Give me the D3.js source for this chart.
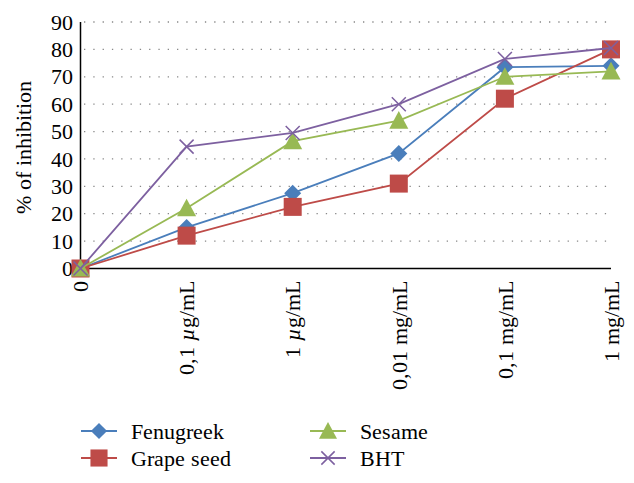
<!DOCTYPE html>
<html><head><meta charset="utf-8">
<script src="https://cdn.jsdelivr.net/npm/d3@7"></script>
<style>
@font-face { font-family: "ChartSerif"; src: local("Liberation Serif"), local("LiberationSerif"), local("Times New Roman"); font-style: normal; }
@font-face { font-family: "ChartSerif"; src: local("Liberation Serif Italic"), local("LiberationSerif-Italic"); font-style: italic; }
</style>
</head><body style="margin:0">
<script>
const categories = ["0", "0,1 \u00b5g/mL", "1 \u00b5g/mL", "0,01 mg/mL", "0,1 mg/mL", "1 mg/mL"];
const fenugreek = [0, 15, 27.5, 42, 73.5, 74];
const grapeSeed = [0, 12, 22.5, 31, 62, 80];
const sesame = [0, 22, 46.5, 54, 70, 72];
const bht = [0, 44.5, 49.5, 60, 76.5, 80.5];
const yTicks = [0, 10, 20, 30, 40, 50, 60, 70, 80, 90];
const seriesNames = ["Fenugreek", "Grape seed", "Sesame", "BHT"];

const series = [
  {name: seriesNames[0], values: fenugreek, color: "#4a7ebb", marker: "diamond"},
  {name: seriesNames[1], values: grapeSeed, color: "#be4b48", marker: "square"},
  {name: seriesNames[2], values: sesame, color: "#98b954", marker: "triangle"},
  {name: seriesNames[3], values: bht, color: "#7d60a0", marker: "x"}
];

const FONT = "Liberation Serif";
const FS = 22;
const svg = d3.select("body").append("svg").attr("width", 634).attr("height", 483);

const x = d3.scalePoint().domain(categories).range([80.5, 611]);
const y = d3.scaleLinear().domain([0, 90]).range([268.5, 22]);

function setFont(sel) {
  return sel.attr("font-family", FONT)
    .style("font-family", "ChartSerif, 'Liberation Serif', 'Times New Roman', serif")
    .attr("font-size", FS).attr("fill", "#000");
}

// gridlines
svg.append("g").selectAll("line").data(yTicks.filter(d => d > 0)).join("line")
  .attr("x1", 84).attr("x2", 611).attr("y1", d => y(d)).attr("y2", d => y(d))
  .attr("stroke", "#888").attr("stroke-width", 1.3)
  .attr("stroke-dasharray", "1.3,8");

// y axis
const yAxisG = svg.append("g");
yAxisG.append("line").attr("x1", 80.5).attr("x2", 80.5).attr("y1", y(90)).attr("y2", y(0))
  .attr("stroke", "#000").attr("stroke-width", 1.5);
setFont(yAxisG.selectAll("text").data(yTicks).join("text")
  .attr("x", 73).attr("y", d => y(d)).attr("dy", "0.35em")
  .attr("text-anchor", "end"))
  .text(d => d);

// x axis
const xAxisG = svg.append("g");
xAxisG.append("line").attr("x1", 80.5).attr("x2", 611).attr("y1", y(0)).attr("y2", y(0))
  .attr("stroke", "#000").attr("stroke-width", 1.5);
setFont(xAxisG.selectAll("text").data(categories).join("text")
  .attr("transform", d => `translate(${x(d)},${y(0) + 12}) rotate(-90)`)
  .attr("text-anchor", "end").attr("dy", "0.35em"))
  .each(function(d) {
    const t = d3.select(this);
    if (d.indexOf("\u00b5") >= 0) {
      const parts = d.split("\u00b5");
      t.append("tspan").text(parts[0]);
      t.append("tspan").attr("font-style", "italic").text("\u00b5");
      t.append("tspan").text(parts[1]);
    } else {
      t.text(d);
    }
  });

// y label
setFont(svg.append("text").attr("transform", "translate(31,147) rotate(-90)")
  .attr("text-anchor", "middle"))
  .text("% of inhibition");

function drawMarker(g, type, color, cx, cy, scale) {
  const s = scale || 1;
  if (type === "diamond") {
    const r = 8.5 * s;
    g.append("path").attr("d", `M${cx},${cy - r}L${cx + r},${cy}L${cx},${cy + r}L${cx - r},${cy}Z`).attr("fill", color);
  } else if (type === "square") {
    const r = 9 * s;
    g.append("rect").attr("x", cx - r).attr("y", cy - r).attr("width", 2 * r).attr("height", 2 * r).attr("fill", color);
  } else if (type === "triangle") {
    const r = 9.5 * s;
    g.append("path").attr("d", `M${cx},${cy - r}L${cx + r},${cy + r * 0.85}L${cx - r},${cy + r * 0.85}Z`).attr("fill", color);
  } else {
    const r = 7 * s;
    g.append("path").attr("d", `M${cx - r},${cy - r}L${cx + r},${cy + r}M${cx + r},${cy - r}L${cx - r},${cy + r}`)
      .attr("stroke", color).attr("stroke-width", 1.5).attr("fill", "none");
  }
}

const line = d3.line().x((d, i) => x(categories[i])).y(d => y(d));
series.forEach(s => {
  const g = svg.append("g");
  g.append("path").datum(s.values).attr("d", line).attr("fill", "none")
    .attr("stroke", s.color).attr("stroke-width", 1.8);
  s.values.forEach((v, i) => drawMarker(g, s.marker, s.color, x(categories[i]), y(v)));
});

// legend
const legendPos = [[81, 431], [81, 458], [310, 431], [310, 458]];
series.forEach((s, i) => {
  const [lx, ly] = legendPos[i];
  const g = svg.append("g");
  g.append("line").attr("x1", lx).attr("x2", lx + 36).attr("y1", ly).attr("y2", ly)
    .attr("stroke", s.color).attr("stroke-width", 1.8);
  drawMarker(g, s.marker, s.color, lx + 18, ly, 0.95);
  setFont(g.append("text").attr("x", lx + 50).attr("y", ly).attr("dy", "0.35em"))
    .text(s.name);
});
</script>
</body></html>
